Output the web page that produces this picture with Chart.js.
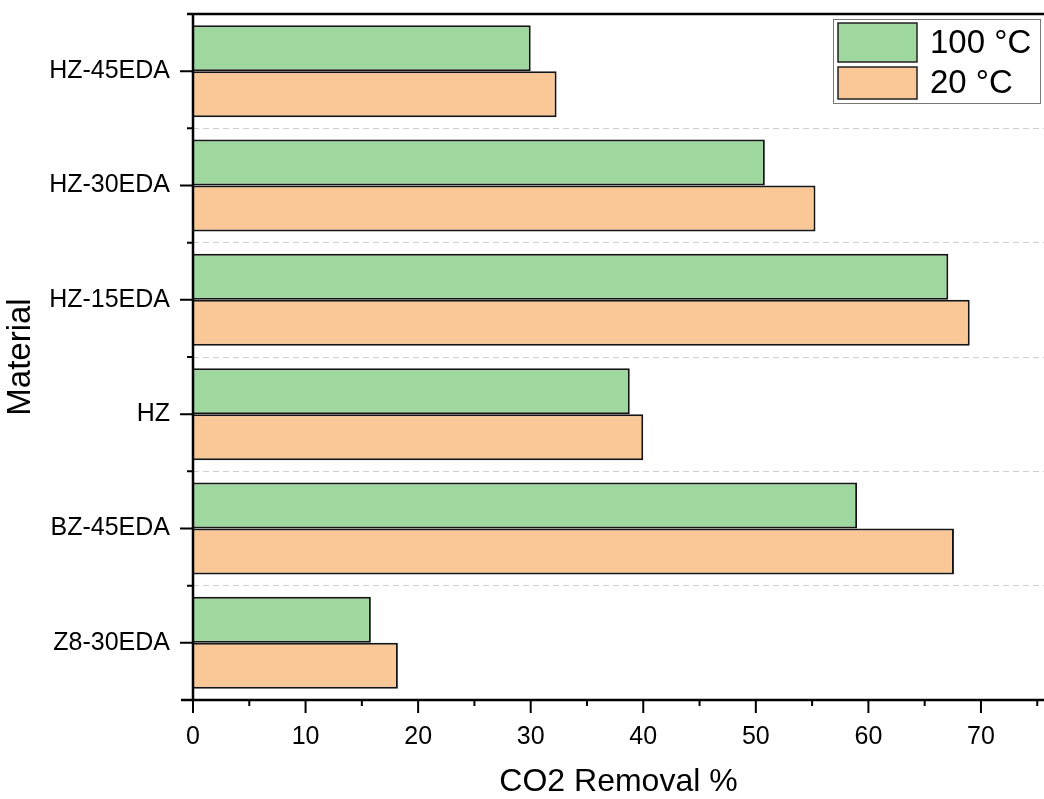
<!DOCTYPE html>
<html>
<head>
<meta charset="utf-8">
<script src="https://cdn.jsdelivr.net/npm/chart.js@4"></script>
<style>
  html, body { margin: 0; padding: 0; background: #fff; }
  #wrap { width: 1044px; height: 799px; position: relative; }
</style>
</head>
<body>
<div id="wrap"><canvas id="chart"></canvas></div>
<script>
// data
const materials = ["HZ-45EDA", "HZ-30EDA", "HZ-15EDA", "HZ", "BZ-45EDA", "Z8-30EDA"];
const removal100 = [30.0, 50.8, 67.1, 38.8, 59.0, 15.8];
const removal20 = [32.3, 55.3, 69.0, 40.0, 67.6, 18.2];
const seriesNames = ["100 °C", "20 °C"];
const xTicks = [0, 10, 20, 30, 40, 50, 60, 70];

const FONT = "'Liberation Sans', Arial, sans-serif";
const green = "rgb(159, 216, 159)";
const orange = "rgb(250, 200, 151)";

// frame, tick marks (major + minor) and the boxed legend
const framePlugin = {
  id: "frame",
  afterDatasetsDraw(chart) {
    const ctx = chart.ctx;
    const ca = chart.chartArea;
    const xs = chart.scales.x;
    const ys = chart.scales.y;
    ctx.save();
    ctx.strokeStyle = "#000";
    ctx.lineWidth = 2.5;
    ctx.lineCap = "butt";
    ctx.beginPath();
    ctx.moveTo(ca.left - 6, ca.top);
    ctx.lineTo(ca.right, ca.top);
    ctx.moveTo(ca.left, ca.top);
    ctx.lineTo(ca.left, ca.bottom);
    ctx.moveTo(ca.left - 12, ca.bottom);
    ctx.lineTo(ca.right, ca.bottom);
    ctx.stroke();

    // x ticks every 5, long at the labelled ones
    ctx.lineWidth = 2;
    ctx.beginPath();
    for (let v = 0; v <= xs.max; v += 5) {
      const px = xs.getPixelForValue(v);
      const len = xTicks.includes(v) ? 13 : 6;
      ctx.moveTo(px, ca.bottom);
      ctx.lineTo(px, ca.bottom + len);
    }
    // y ticks: long at categories, short at boundaries
    for (let i = 0; i < materials.length; i++) {
      const py = ys.getPixelForValue(i);
      ctx.moveTo(ca.left, py);
      ctx.lineTo(ca.left - 13, py);
    }
    for (let i = 0; i <= materials.length; i++) {
      const py = ys.getPixelForValue(i - 0.5);
      ctx.moveTo(ca.left, py);
      ctx.lineTo(ca.left - 6, py);
    }
    ctx.stroke();
    ctx.restore();
  },
  afterDraw(chart) {
    const ctx = chart.ctx;
    const ca = chart.chartArea;
    const boxR = ca.right - 4;
    const boxT = ca.top + 5;
    const boxW = 207;
    const boxH = 84;
    const boxL = boxR - boxW;
    ctx.save();
    ctx.fillStyle = "#fff";
    ctx.fillRect(boxL, boxT, boxW, boxH);
    ctx.strokeStyle = "#777";
    ctx.lineWidth = 1;
    ctx.strokeRect(boxL + 0.5, boxT + 0.5, boxW, boxH);
    const rows = [
      { top: boxT + 4, h: 39 },
      { top: boxT + 48, h: 32 },
    ];
    chart.data.datasets.forEach((ds, i) => {
      const r = rows[i];
      ctx.fillStyle = ds.backgroundColor;
      ctx.fillRect(boxL + 5, r.top, 79, r.h);
      ctx.strokeStyle = "#222";
      ctx.lineWidth = 1.5;
      ctx.strokeRect(boxL + 5, r.top, 79, r.h);
      ctx.fillStyle = "#000";
      ctx.font = "33px " + FONT;
      ctx.textBaseline = "middle";
      ctx.textAlign = "left";
      ctx.fillText(ds.label, boxL + 97, r.top + r.h / 2 + 1);
    });
    ctx.restore();
  },
};

new Chart(document.getElementById("chart"), {
  type: "bar",
  data: {
    labels: materials,
    datasets: [
      {
        label: seriesNames[0],
        data: removal100,
        backgroundColor: green,
        borderColor: "#151515",
        borderWidth: 2,
      },
      {
        label: seriesNames[1],
        data: removal20,
        backgroundColor: orange,
        borderColor: "#151515",
        borderWidth: 2,
      },
    ],
  },
  options: {
    indexAxis: "y",
    responsive: true,
    maintainAspectRatio: false,
    animation: false,
    devicePixelRatio: 1,
    layout: { padding: { top: 14, right: 0, left: 0, bottom: 0 } },
    datasets: {
      bar: { categoryPercentage: 0.805, barPercentage: 1.0 },
    },
    plugins: {
      legend: { display: false },
      tooltip: { enabled: false },
    },
    scales: {
      x: {
        type: "linear",
        min: 0,
        max: 75.6,
        afterFit(scale) {
          scale.height = 99;
          scale.paddingLeft = 0;
          scale.paddingRight = 0;
        },
        ticks: {
          stepSize: 10,
          includeBounds: false,
          padding: 22,
          color: "#000",
          font: { family: FONT, size: 25 },
          callback: (v) => (xTicks.includes(v) ? String(v) : ""),
        },
        grid: { display: false, drawTicks: false },
        border: { display: false },
        title: {
          display: true,
          text: "CO2 Removal %",
          color: "#000",
          font: { family: FONT, size: 32 },
          padding: { top: 0, bottom: -2 },
        },
      },
      y: {
        type: "category",
        afterFit(scale) {
          scale.width = 193;
          scale.paddingTop = 0;
          scale.paddingBottom = 0;
        },
        ticks: {
          padding: 23,
          color: "#000",
          font: { family: FONT, size: 25 },
        },
        grid: {
          color: "#cfcfcf",
          lineWidth: 1,
          drawTicks: false,
        },
        border: { display: false, dash: [6, 4] },
        title: {
          display: true,
          text: "Material",
          color: "#000",
          font: { family: FONT, size: 33 },
          padding: { top: 1, bottom: 0 },
        },
      },
    },
  },
  plugins: [framePlugin],
});
</script>
</body>
</html>
